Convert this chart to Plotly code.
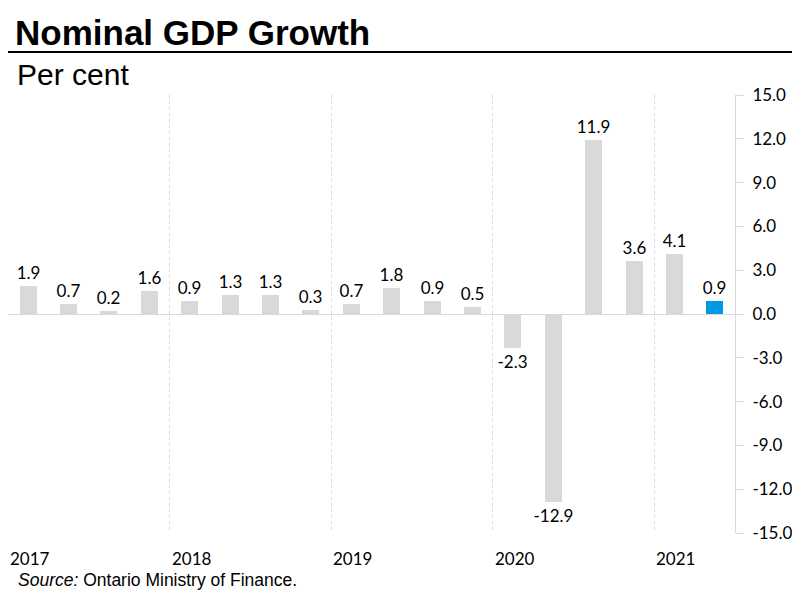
import plotly.graph_objects as go

# quarterly nominal GDP growth, 2017Q1 - 2021Q2
years = ["2017", "2018", "2019", "2020", "2021"]
values = [1.9, 0.7, 0.2, 1.6, 0.9, 1.3, 1.3, 0.3, 0.7, 1.8, 0.9, 0.5,
          -2.3, -12.9, 11.9, 3.6, 4.1, 0.9]
y_ticks = [-15, -12, -9, -6, -3, 0, 3, 6, 9, 12, 15]

grey = "#d9d9d9"
blue = "#0099e6"
label_font = "Lato"

# the page body has an 8px margin on every side, so lay out in screen
# pixels and keep the figure inside the visible 800x600 window
OFF = 8
W, H = 800 - 2 * OFF, 600 - 2 * OFF
L, T = 0, 95 - OFF
R = W - (737 - OFF)
B = H - (533 - OFF)
pw, ph = W - L - R, H - T - B


def px(x):
    return (x - OFF - L) / pw


def py(y):
    return (H - B - (y - OFF)) / ph


n = len(values)
xs = list(range(n))
colors = [grey] * (n - 1) + [blue]
year_starts = [i * 4 - 0.5 for i in range(len(years))]

fig = go.Figure()
fig.add_trace(
    go.Bar(
        x=xs,
        y=values,
        width=0.42,
        marker=dict(color=colors, line=dict(width=0)),
        text=[f"{v:.1f}" for v in values],
        textposition="outside",
        constraintext="none",
        textfont=dict(family=label_font, size=17, color="#000"),
        cliponaxis=False,
        hoverinfo="skip",
    )
)

annotations = [
    dict(text="Per cent", xref="paper", yref="paper", x=px(15), y=py(75),
         xanchor="left", yanchor="middle", showarrow=False,
         font=dict(family="Arial", size=30, color="#000")),
    dict(text="<i>Source:</i> Ontario Ministry of Finance.", xref="paper",
         yref="paper", x=px(16), y=py(580), xanchor="left", yanchor="middle",
         showarrow=False, font=dict(family="Arial", size=17.5, color="#000")),
]
for yr, xs0 in zip(years, year_starts):
    annotations.append(
        dict(text=yr, xref="x", yref="paper", x=xs0, y=py(558),
             xanchor="left", yanchor="middle", showarrow=False,
             font=dict(family=label_font, size=17, color="#000"))
    )

fig.update_layout(
    width=W,
    height=H,
    margin=dict(l=L, r=R, t=T, b=B, pad=0),
    paper_bgcolor="white",
    plot_bgcolor="white",
    showlegend=False,
    bargap=0,
    title=dict(
        text="<b>Nominal GDP Growth</b>",
        xref="container", yref="container",
        x=(15 - OFF) / W, y=1 - (33 - OFF) / H, xanchor="left", yanchor="middle",
        font=dict(family="Arial", size=35, color="#000"),
    ),
    xaxis=dict(
        range=[-0.5, n - 0.5],
        tickmode="array",
        tickvals=year_starts,
        showticklabels=False,
        showgrid=True,
        gridcolor=grey,
        griddash="3px,3px",
        gridwidth=1,
        zeroline=False,
        showline=False,
        ticks="",
    ),
    yaxis=dict(
        side="right",
        range=[-15, 15],
        tickmode="array",
        tickvals=y_ticks,
        ticktext=[f"{v:.1f}" for v in y_ticks],
        showgrid=False,
        zeroline=True,
        zerolinecolor=grey,
        zerolinewidth=1,
        showline=True,
        linecolor=grey,
        linewidth=1,
        ticks="outside",
        ticklen=8,
        tickcolor=grey,
        ticklabelstandoff=5,
        tickfont=dict(family=label_font, size=17, color="#000"),
    ),
    shapes=[
        dict(type="line", xref="paper", yref="paper", x0=px(0), x1=px(800),
             y0=py(52), y1=py(52), line=dict(color="#000", width=2)),
    ],
    annotations=annotations,
)

fig.write_html("out.html")
